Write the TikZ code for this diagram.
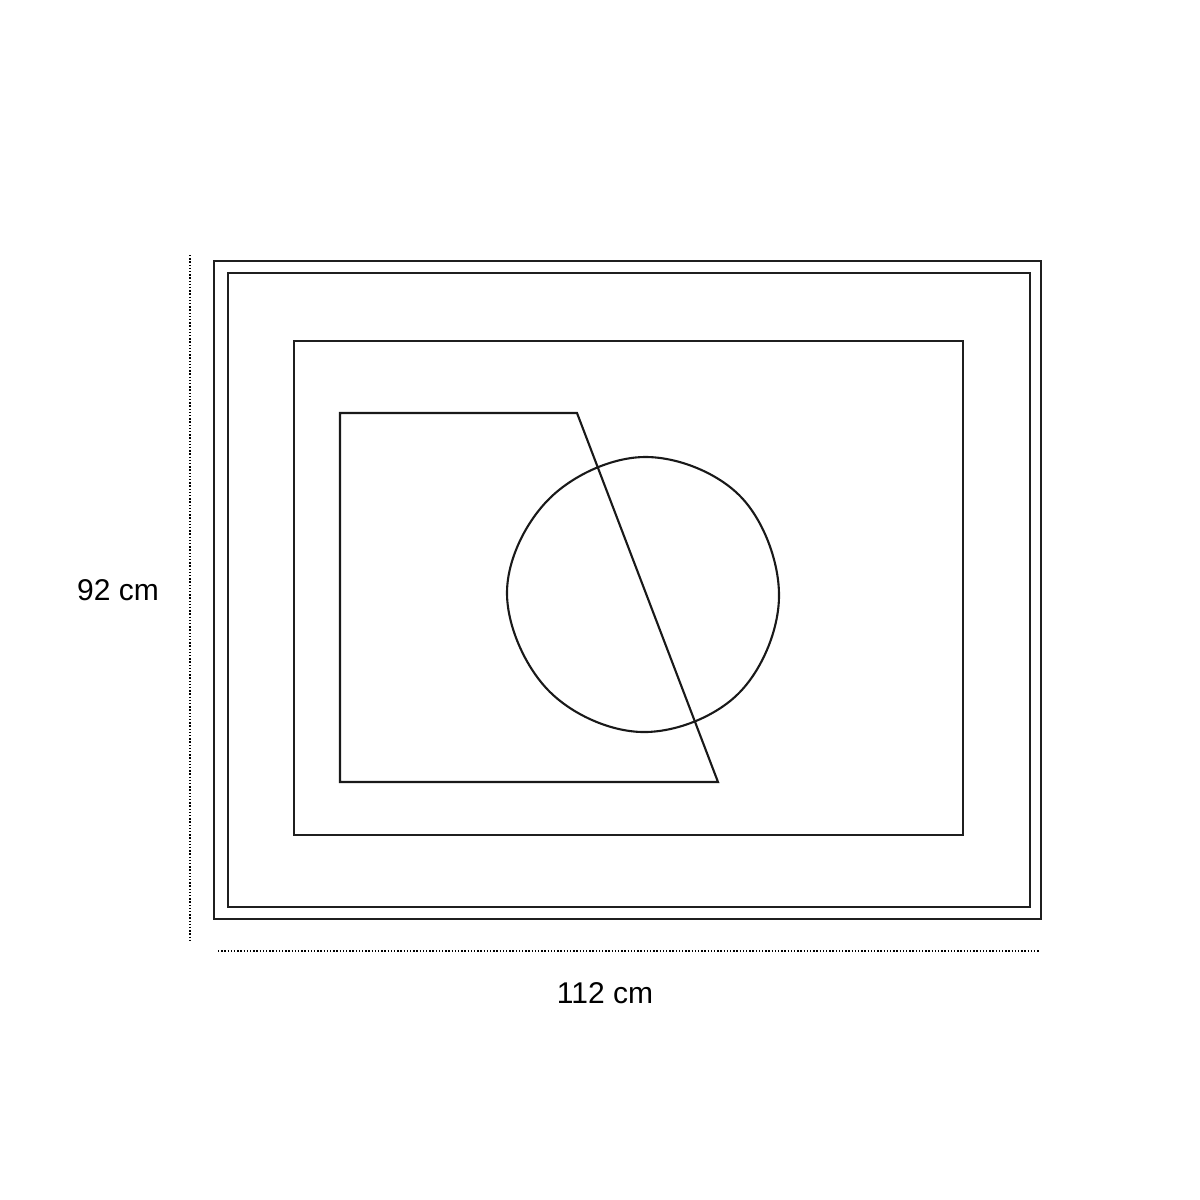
\documentclass[tikz,border=0pt]{standalone}
\usepackage{fontspec}
\setmainfont{Liberation Sans}
\begin{document}
\begin{tikzpicture}[x=1pt,y=-1pt,
  frameline/.style={draw=black!88,line width=2.8pt},
  artline/.style={draw=black!90,line width=2.1pt,line join=miter},
  dimline/.style={draw=black,line width=1.3pt,dash pattern=on 1.3pt off 1.9pt},
  dimlabel/.style={font=\fontsize{30}{36}\selectfont,inner sep=0pt}]
\useasboundingbox (0,0) rectangle (1200,1200);
\fill[white] (0,0) rectangle (1200,1200);
% frames
\draw[frameline] (214,261) rectangle (1041,919);
\draw[frameline] (228,273) rectangle (1030,907);
\draw[frameline] (294,341) rectangle (963,835);
% trapezoid
\draw[artline] (340,413) -- (577,413) -- (718,782) -- (340,782) -- cycle;
% blob circle
\draw[artline] plot[smooth cycle,tension=0.62] coordinates {
 (645,457) (741,497) (779,597) (738,694) (642,732) (548,690) (507,592) (550,498)};
% dimension lines
\coordinate (vt) at (190,255);
\coordinate (vb) at (190,942);
\coordinate (hl) at (218,951);
\coordinate (hr) at (1040,951);
\draw[dimline] (vt) -- (vb);
\draw[dimline] (hl) -- (hr);
\node[dimlabel] (h) at (118,590) {92 cm};
\node[dimlabel] (w) at (605,993) {112 cm};
\end{tikzpicture}
\end{document}
